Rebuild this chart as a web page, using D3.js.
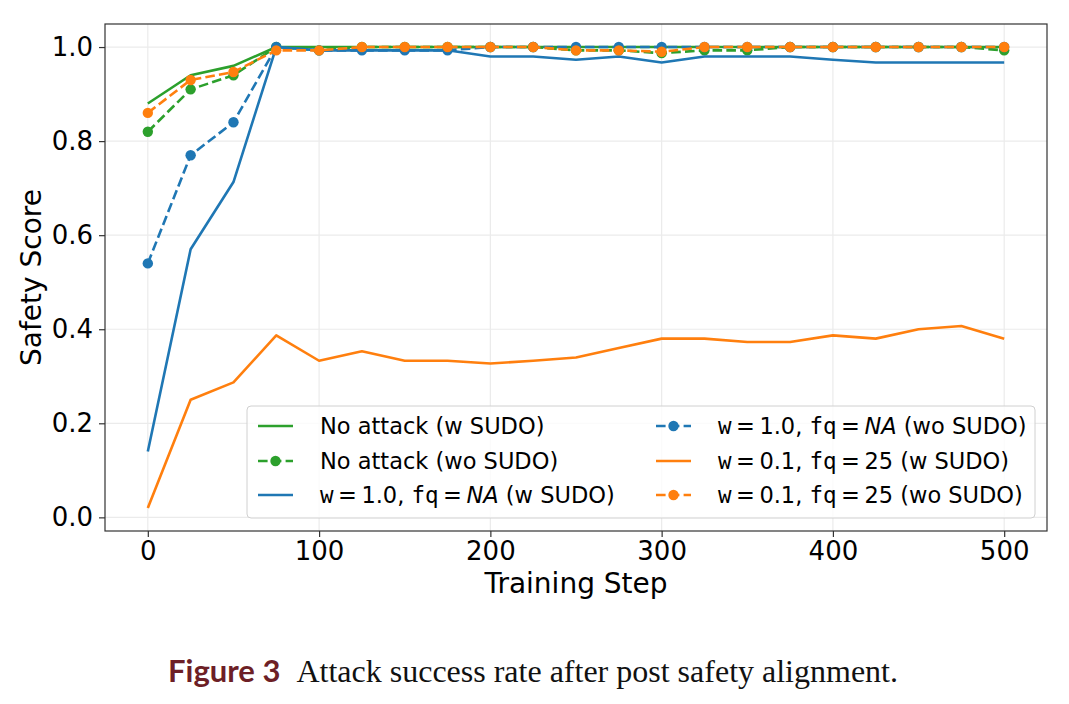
<!DOCTYPE html>
<html>
<head>
<meta charset="utf-8">
<script src="https://cdn.jsdelivr.net/npm/d3@7"></script>
<style>
  body { margin: 0; background: #fff; }
  text { font-family: "DejaVu Sans", sans-serif; fill: #000; }
</style>
</head>
<body>
<div id="chart"></div>
<script>
var steps = [0, 25, 50, 75, 100, 125, 150, 175, 200, 225, 250, 275, 300, 325, 350, 375, 400, 425, 450, 475, 500];

var no_attack_w = [0.88, 0.94, 0.96, 1.0, 1.0, 1.0, 1.0, 1.0, 1.0, 1.0, 1.0, 1.0, 1.0, 1.0, 1.0, 1.0, 1.0, 1.0, 1.0, 1.0, 1.0];
var no_attack_wo = [0.82, 0.91, 0.94, 1.0, 0.993, 1.0, 1.0, 1.0, 1.0, 1.0, 0.993, 0.993, 0.987, 0.993, 0.993, 1.0, 1.0, 1.0, 1.0, 1.0, 0.993];
var w10_w = [0.14, 0.57, 0.713, 1.0, 0.993, 0.993, 0.993, 0.993, 0.98, 0.98, 0.973, 0.98, 0.967, 0.98, 0.98, 0.98, 0.973, 0.967, 0.967, 0.967, 0.967];
var w10_wo = [0.54, 0.77, 0.84, 1.0, 0.993, 0.993, 0.993, 0.993, 1.0, 1.0, 1.0, 1.0, 1.0, 1.0, 1.0, 1.0, 1.0, 1.0, 1.0, 1.0, 1.0];
var w01_w = [0.02, 0.25, 0.287, 0.387, 0.333, 0.353, 0.333, 0.333, 0.327, 0.333, 0.34, 0.36, 0.38, 0.38, 0.373, 0.373, 0.387, 0.38, 0.4, 0.407, 0.38];
var w01_wo = [0.86, 0.93, 0.947, 0.993, 0.993, 1.0, 1.0, 1.0, 1.0, 1.0, 0.993, 0.993, 0.99, 1.0, 1.0, 1.0, 1.0, 1.0, 1.0, 1.0, 1.0];

var x_ticks = [0, 100, 200, 300, 400, 500];
var y_ticks = [0.0, 0.2, 0.4, 0.6, 0.8, 1.0];

// legend order follows matplotlib column fill
var series = [
  { values: no_attack_w, color: '#2ca02c', dashed: false, label: [['No attack (w SUDO)', '']] },
  { values: no_attack_wo, color: '#2ca02c', dashed: true, label: [['No attack (wo SUDO)', '']] },
  { values: w10_w, color: '#1f77b4', dashed: false, label: [['w', 'm'], ['\u2009=\u20091.0, ', ''], ['fq', 'm'], ['\u2009=\u2009', ''], ['NA', 'i'], [' (w SUDO)', '']] },
  { values: w10_wo, color: '#1f77b4', dashed: true, label: [['w', 'm'], ['\u2009=\u20091.0, ', ''], ['fq', 'm'], ['\u2009=\u2009', ''], ['NA', 'i'], [' (wo SUDO)', '']] },
  { values: w01_w, color: '#ff7f0e', dashed: false, label: [['w', 'm'], ['\u2009=\u20090.1, ', ''], ['fq', 'm'], ['\u2009=\u200925 (w SUDO)', '']] },
  { values: w01_wo, color: '#ff7f0e', dashed: true, label: [['w', 'm'], ['\u2009=\u20090.1, ', ''], ['fq', 'm'], ['\u2009=\u200925 (wo SUDO)', '']] }
];

var chart_width = 1069;
var chart_height = 704;
var plot = { left: 105, right: 1047, top: 24, bottom: 531 };

var svg = d3.select('#chart')
  .append('svg')
  .attr('width', chart_width)
  .attr('height', chart_height);

var x_scale = d3.scaleLinear()
  .domain([-25, 525])
  .range([plot.left, plot.right]);

var y_scale = d3.scaleLinear()
  .domain([-0.029, 1.049])
  .range([plot.bottom, plot.top]);

// grid
svg.append('g')
  .selectAll('line')
  .data(x_ticks)
  .enter()
  .append('line')
  .attr('x1', function(d) { return x_scale(d); })
  .attr('x2', function(d) { return x_scale(d); })
  .attr('y1', plot.top)
  .attr('y2', plot.bottom)
  .attr('stroke', '#ebebeb')
  .attr('stroke-width', 1.2);

svg.append('g')
  .selectAll('line')
  .data(y_ticks)
  .enter()
  .append('line')
  .attr('x1', plot.left)
  .attr('x2', plot.right)
  .attr('y1', function(d) { return y_scale(d); })
  .attr('y2', function(d) { return y_scale(d); })
  .attr('stroke', '#ebebeb')
  .attr('stroke-width', 1.2);

// axes
var x_axis = d3.axisBottom(x_scale)
  .tickValues(x_ticks)
  .tickSize(6)
  .tickPadding(5)
  .tickFormat(d3.format('d'));
var gx = svg.append('g')
  .attr('transform', 'translate(0,' + plot.bottom + ')')
  .call(x_axis);

var y_axis = d3.axisLeft(y_scale)
  .tickValues(y_ticks)
  .tickSize(6)
  .tickPadding(6)
  .tickFormat(d3.format('.1f'));
var gy = svg.append('g')
  .attr('transform', 'translate(' + plot.left + ',0)')
  .call(y_axis);

[gx, gy].forEach(function(g) {
  g.select('.domain').remove();
  g.selectAll('.tick line').attr('stroke', '#333').attr('stroke-width', 1.2);
  g.selectAll('.tick text')
    .style('font-family', '"DejaVu Sans", sans-serif')
    .style('font-size', '26px')
    .attr('fill', '#000');
});

// frame
svg.append('rect')
  .attr('x', plot.left)
  .attr('y', plot.top)
  .attr('width', plot.right - plot.left)
  .attr('height', plot.bottom - plot.top)
  .attr('fill', 'none')
  .attr('stroke', '#333')
  .attr('stroke-width', 1.2);

// lines
var line = d3.line()
  .x(function(d, i) { return x_scale(steps[i]); })
  .y(function(d) { return y_scale(d); });

series.forEach(function(s) {
  svg.append('path')
    .datum(s.values)
    .attr('d', line)
    .attr('fill', 'none')
    .attr('stroke', s.color)
    .attr('stroke-width', 2.6)
    .attr('stroke-linejoin', 'round')
    .attr('stroke-dasharray', s.dashed ? '9.6,4.2' : null);
  if (s.dashed) {
    svg.append('g')
      .selectAll('circle')
      .data(s.values)
      .enter()
      .append('circle')
      .attr('cx', function(d, i) { return x_scale(steps[i]); })
      .attr('cy', function(d) { return y_scale(d); })
      .attr('r', 5.2)
      .attr('fill', s.color);
  }
});

// axis labels
svg.append('text')
  .attr('x', 576)
  .attr('y', 593)
  .attr('text-anchor', 'middle')
  .style('font-size', '28px')
  .text('Training Step');

svg.append('text')
  .attr('transform', 'translate(41,' + ((plot.top + plot.bottom) / 2) + ') rotate(-90)')
  .attr('text-anchor', 'middle')
  .style('font-size', '28px')
  .text('Safety Score');

// legend
var legend = svg.append('g');
legend.append('rect')
  .attr('x', 247)
  .attr('y', 406)
  .attr('width', 788)
  .attr('height', 112)
  .attr('rx', 4)
  .attr('fill', '#fff')
  .attr('fill-opacity', 0.8)
  .attr('stroke', '#d0d0d0')
  .attr('stroke-width', 1);

var col_x = [258, 656];
var row_y = [426, 461, 495];

series.forEach(function(s, i) {
  var cx = col_x[Math.floor(i / 3)];
  var cy = row_y[i % 3];
  legend.append('line')
    .attr('x1', cx)
    .attr('x2', cx + 35)
    .attr('y1', cy)
    .attr('y2', cy)
    .attr('stroke', s.color)
    .attr('stroke-width', 2.6)
    .attr('stroke-dasharray', s.dashed ? '9.6,4.2' : null);
  if (s.dashed) {
    legend.append('circle')
      .attr('cx', cx + 17.5)
      .attr('cy', cy)
      .attr('r', 5.2)
      .attr('fill', s.color);
  }
  var t = legend.append('text')
    .attr('x', cx + 62)
    .attr('y', cy + 8)
    .style('font-size', '22.5px');
  s.label.forEach(function(p) {
    var ts = t.append('tspan').text(p[0]);
    if (p[1] === 'm') ts.style('font-family', '"DejaVu Sans Mono", monospace');
    if (p[1] === 'i') ts.style('font-style', 'italic');
  });
});

// caption
var cap = svg.append('text')
  .attr('x', 533)
  .attr('y', 682)
  .attr('text-anchor', 'middle');
cap.append('tspan')
  .text('Figure 3')
  .style('font-family', 'Lato, sans-serif')
  .style('font-weight', 'bold')
  .style('font-size', '31px')
  .attr('fill', '#6d1f26');
cap.append('tspan')
  .text('\u2002Attack success rate after post safety alignment.')
  .style('font-family', '"Liberation Serif", serif')
  .style('font-size', '32px')
  .attr('fill', '#111');
</script>
</body>
</html>
